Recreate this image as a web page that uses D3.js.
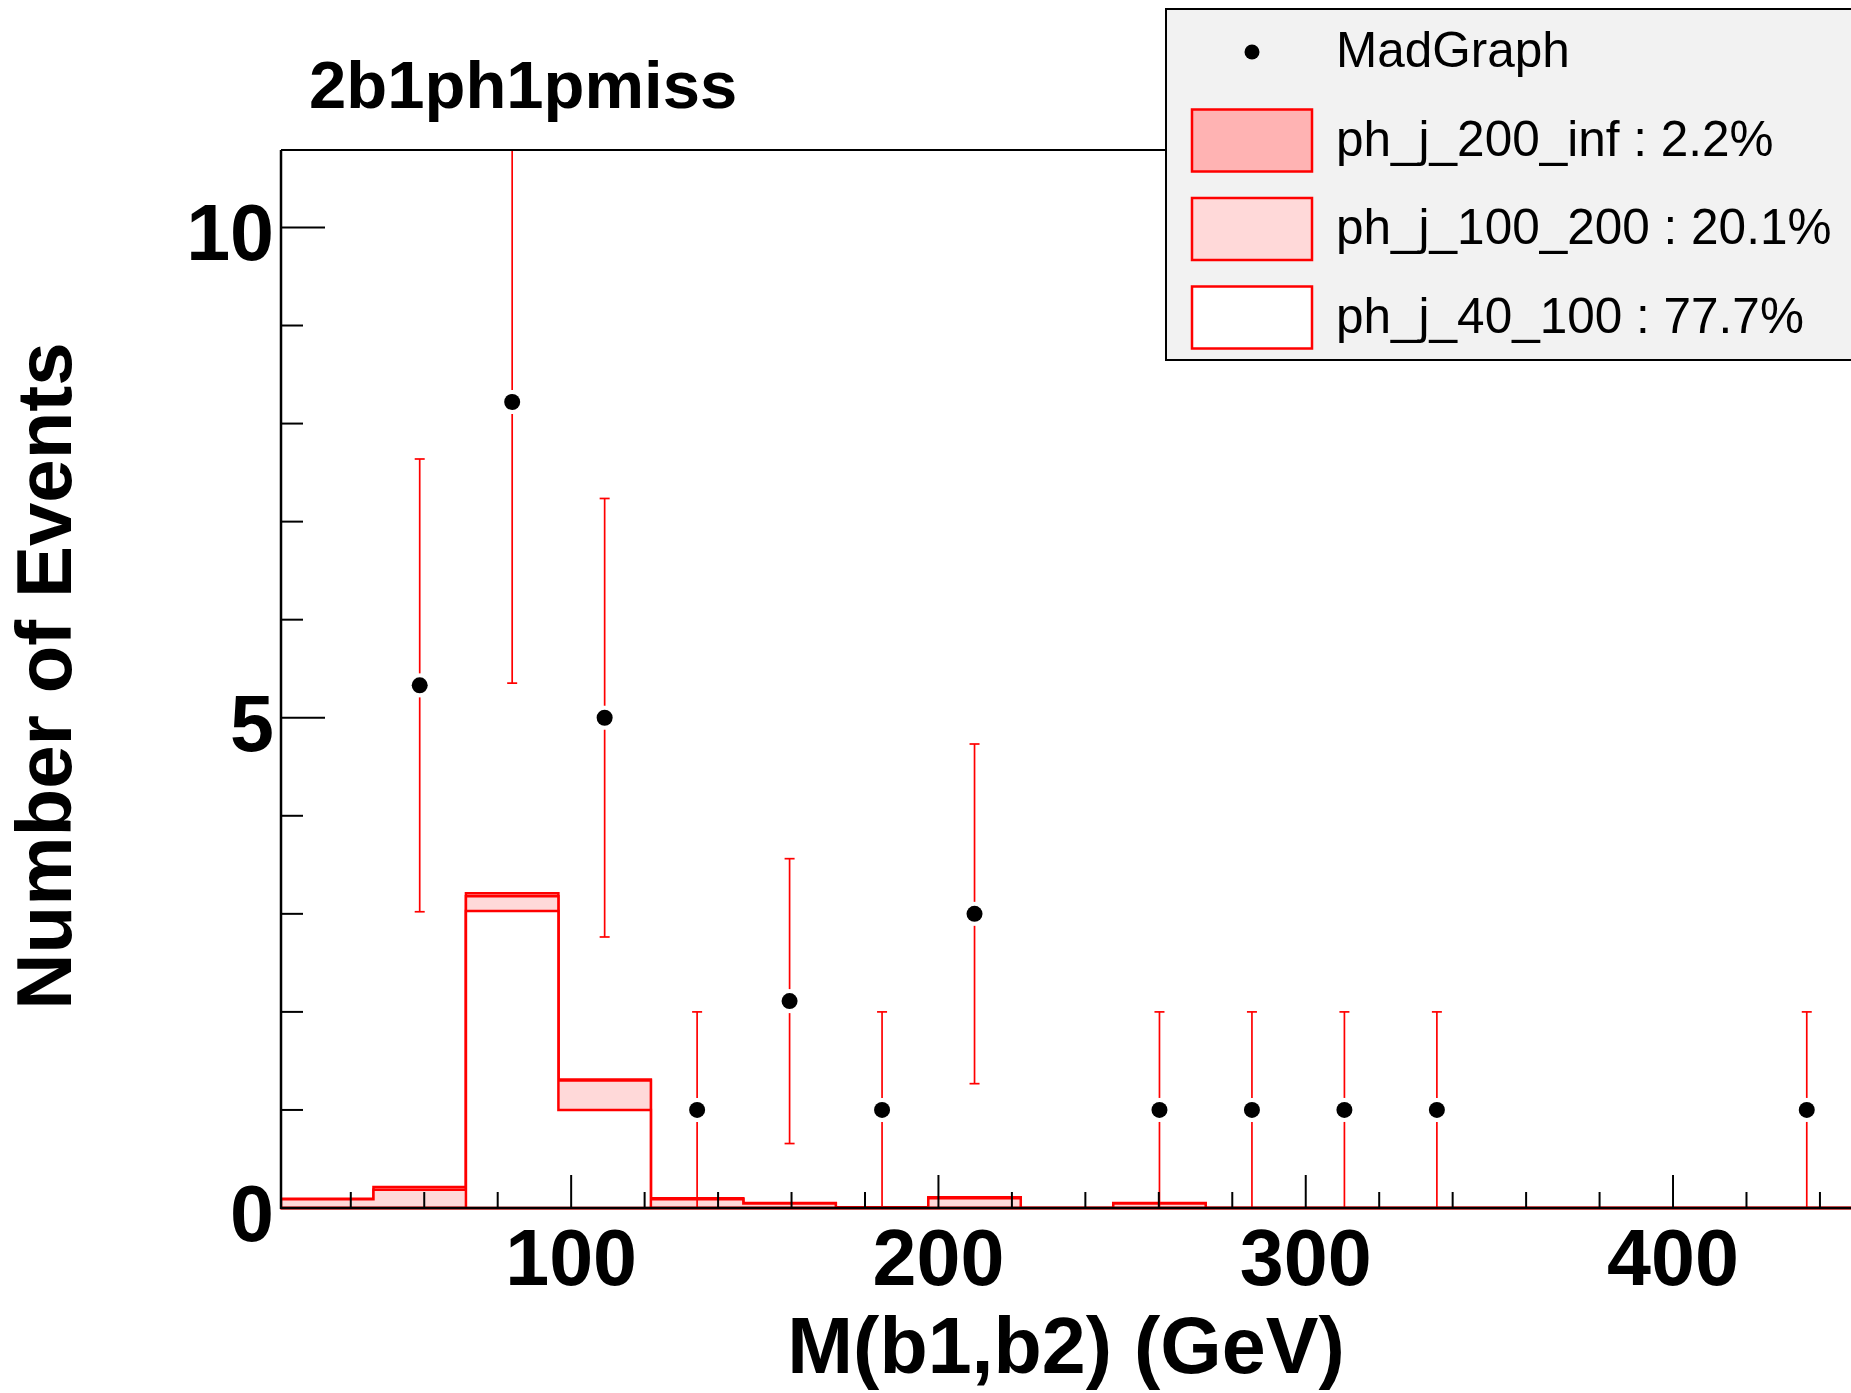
<!DOCTYPE html>
<html><head><meta charset="utf-8">
<script src="https://cdn.jsdelivr.net/npm/d3@7"></script>
<style>html,body{margin:0;padding:0;background:#fff;overflow:hidden}</style>
</head><body>
<svg id="c" width="1851" height="1393" xmlns="http://www.w3.org/2000/svg"></svg>
<script>
// ---- data ----
const title = "2b1ph1pmiss";
const xLabel = "M(b1,b2) (GeV)";
const yLabel = "Number of Events";
const binLow = 21, binHigh = 449, nBins = 17;
const xMajorTicks = [100, 200, 300, 400];
const xMinorTicks = [40, 60, 80, 120, 140, 160, 180, 220, 240, 260, 280, 320, 340, 360, 380, 420, 440];
const yMajorTicks = [0, 5, 10];
const yMinorTicks = [1, 2, 3, 4, 6, 7, 8, 9];
const h40_100  = [0, 0, 3.03, 1.00, 0, 0, 0, 0, 0, 0, 0, 0, 0, 0, 0, 0, 0];
const h100_200 = [0.09, 0.185, 0.15, 0.30, 0.09, 0.045, 0, 0.10, 0, 0.045, 0, 0, 0, 0, 0, 0, 0];
const h200_inf = [0.005, 0.03, 0.03, 0.01, 0.01, 0.005, 0.007, 0.01, 0, 0.005, 0, 0, 0, 0, 0, 0, 0];
const dataVals = [null, 5.33, 8.22, 5.0, 1, 2.11, 1, 3, null, 1, 1, 1, 1, null, null, null, 1];
const legendLabels = ["MadGraph", "ph_j_200_inf : 2.2%", "ph_j_100_200 : 20.1%", "ph_j_40_100 : 77.7%"];
const layerColors = ["#ffb3b3", "#ffd9d9", "#ffffff"]; // 200_inf, 100_200, 40_100

// ---- layout ----
const W = 1851, H = 1393;
const yMax = 10.79;
const x = d3.scaleLinear().domain([binLow, binHigh]).range([281, 1853]);
const y = d3.scaleLinear().domain([0, yMax]).range([1208, 150]);
const bw = (binHigh - binLow) / nBins;
const edges = d3.range(nBins + 1).map(i => binLow + i * bw);

const svg = d3.select("#c");
svg.append("rect").attr("width", W).attr("height", H).attr("fill", "#fff");

const defs = svg.append("defs");
defs.append("clipPath").attr("id", "plotclip").append("rect")
  .attr("x", 280).attr("y", 150).attr("width", W - 280).attr("height", 1210 - 150);

const plot = svg.append("g").attr("clip-path", "url(#plotclip)");

// cumulative stacks
const cumBottom = h40_100.slice();
const cumMid = h40_100.map((v, i) => v + h100_200[i]);
const cumTop = cumMid.map((v, i) => v + h200_inf[i]);
const stacks = [cumTop, cumMid, cumBottom];

function stepPath(vals) {
  let p = `M${x(edges[0])},${y(0)}`;
  vals.forEach((v, i) => {
    p += `L${x(edges[i])},${y(v)}L${x(edges[i + 1])},${y(v)}`;
  });
  p += `L${x(edges[nBins])},${y(0)}Z`;
  return p;
}
stacks.forEach((s, k) => {
  plot.append("path").attr("d", stepPath(s))
    .attr("fill", layerColors[k]).attr("stroke", "#ff0000")
    .attr("stroke-width", 2.5).attr("stroke-linejoin", "miter");
});

// data points with errors
const pts = dataVals.map((v, i) => ({ v, c: binLow + (i + 0.5) * bw })).filter(d => d.v !== null);
const r = 8, gap = 12, cap = 5;
const eg = plot.append("g").attr("stroke", "#ff0000").attr("stroke-width", 1.7);
pts.forEach(d => {
  const e = Math.sqrt(d.v);
  const top = Math.min(d.v + e, yMax), bot = Math.max(d.v - e, 0);
  const cx = x(d.c), cy = y(d.v);
  eg.append("line").attr("x1", cx).attr("x2", cx).attr("y1", y(top)).attr("y2", cy - gap);
  eg.append("line").attr("x1", cx).attr("x2", cx).attr("y1", cy + gap).attr("y2", y(bot));
  if (d.v + e < yMax) eg.append("line").attr("x1", cx - cap).attr("x2", cx + cap).attr("y1", y(d.v + e)).attr("y2", y(d.v + e));
  if (d.v - e > 0) eg.append("line").attr("x1", cx - cap).attr("x2", cx + cap).attr("y1", y(d.v - e)).attr("y2", y(d.v - e));
});
plot.append("g").selectAll("circle").data(pts).join("circle")
  .attr("cx", d => x(d.c)).attr("cy", d => y(d.v)).attr("r", r).attr("fill", "#000");

// frame top
svg.append("line").attr("x1", 281).attr("x2", W).attr("y1", 150).attr("y2", 150)
  .attr("stroke", "#000").attr("stroke-width", 2);

// axes
const axG = svg.append("g").attr("stroke", "#000").attr("stroke-width", 2.5);
axG.append("line").attr("x1", 281).attr("x2", W).attr("y1", y(0)).attr("y2", y(0));
axG.append("line").attr("x1", 281).attr("x2", 281).attr("y1", 150).attr("y2", y(0) + 1);
const tG = svg.append("g").attr("stroke", "#000").attr("stroke-width", 2);
xMajorTicks.forEach(t => tG.append("line").attr("x1", x(t)).attr("x2", x(t)).attr("y1", y(0)).attr("y2", y(0) - 33));
xMinorTicks.forEach(t => tG.append("line").attr("x1", x(t)).attr("x2", x(t)).attr("y1", y(0)).attr("y2", y(0) - 16));
yMajorTicks.forEach(t => tG.append("line").attr("x1", 281).attr("x2", 281 + 44).attr("y1", y(t)).attr("y2", y(t)));
yMinorTicks.forEach(t => tG.append("line").attr("x1", 281).attr("x2", 281 + 22).attr("y1", y(t)).attr("y2", y(t)));

const font = "'Liberation Sans', Arial, Helvetica, sans-serif";
svg.append("g").selectAll("text").data(xMajorTicks).join("text")
  .attr("x", d => x(d)).attr("y", y(0) + 77).attr("text-anchor", "middle")
  .attr("font-family", font).attr("font-weight", "bold").attr("font-size", 79).text(d => d);
svg.append("g").selectAll("text").data(yMajorTicks).join("text")
  .attr("x", 274).attr("y", d => y(d) + 33).attr("text-anchor", "end")
  .attr("font-family", font).attr("font-weight", "bold").attr("font-size", 79).text(d => d);

// titles
svg.append("text").attr("x", 1066).attr("y", 1373).attr("text-anchor", "middle")
  .attr("font-family", font).attr("font-weight", "bold").attr("font-size", 79).text(xLabel);
svg.append("text").attr("transform", "translate(71,676) rotate(-90)").attr("text-anchor", "middle")
  .attr("font-family", font).attr("font-weight", "bold").attr("font-size", 78).text(yLabel);
svg.append("text").attr("x", 309).attr("y", 108)
  .attr("font-family", font).attr("font-weight", "bold").attr("font-size", 67).text(title);

// legend
const lg = svg.append("g");
lg.append("rect").attr("x", 1166).attr("y", 9).attr("width", 760).attr("height", 351)
  .attr("fill", "#f2f2f2").attr("stroke", "#000").attr("stroke-width", 2);
const rowY = [52, 140.5, 229, 317.5];
lg.append("circle").attr("cx", 1252).attr("cy", rowY[0]).attr("r", 7.5).attr("fill", "#000");
[0, 1, 2].forEach(k => {
  lg.append("rect").attr("x", 1192).attr("y", rowY[k + 1] - 31).attr("width", 120).attr("height", 62)
    .attr("fill", layerColors[k]).attr("stroke", "#ff0000").attr("stroke-width", 2.5);
});
lg.selectAll("text.lbl").data(legendLabels).join("text").attr("class", "lbl")
  .attr("x", 1336).attr("y", (d, i) => rowY[i] + 15)
  .attr("font-family", font).attr("font-size", 49.5).attr("fill", "#000").text(d => d);
</script>
</body></html>
